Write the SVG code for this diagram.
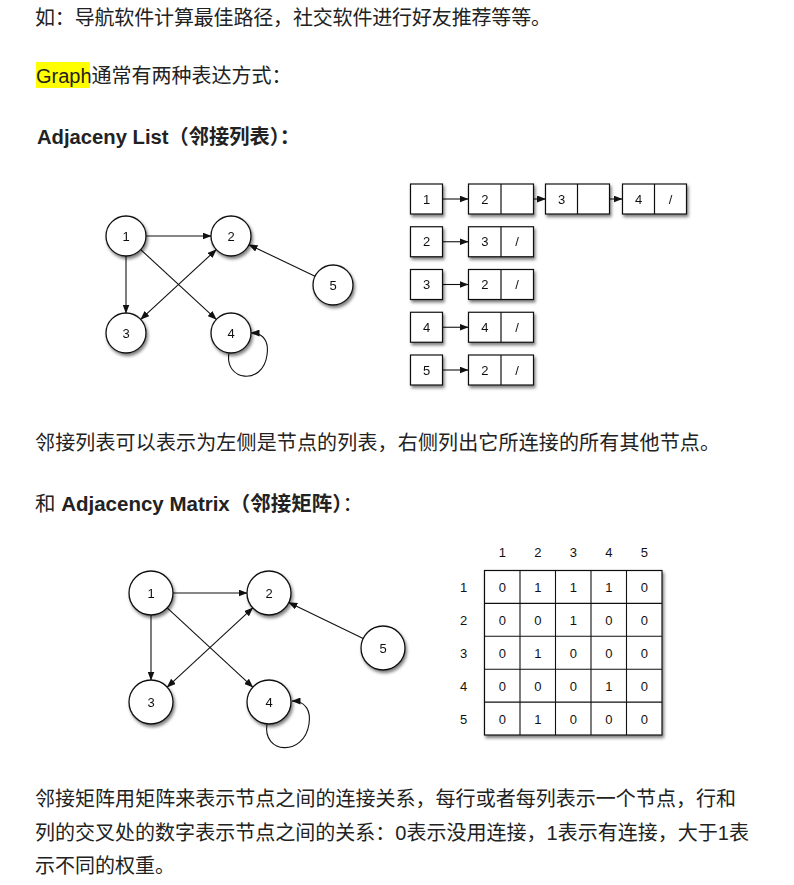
<svg xmlns="http://www.w3.org/2000/svg" width="794" height="885" viewBox="0 0 794 885">
<defs>
<style>
.t{font-family:"Liberation Sans","Noto Sans CJK SC",sans-serif;font-size:20px;fill:#222}
.b{font-weight:bold}
.n{fill:#fff;stroke:#111;stroke-width:1.3}
.bx{fill:#fff;stroke:#111;stroke-width:1.2}
.l{font-family:"Liberation Sans",Arial,sans-serif;font-size:13px;fill:#111;text-anchor:middle}
.c{fill:none;stroke:#111;stroke-width:1.1}
</style>
<filter id="sh" x="-30%" y="-30%" width="170%" height="170%">
<feDropShadow dx="1.5" dy="2.5" stdDeviation="1.6" flood-color="#000" flood-opacity="0.5"/>
</filter>
<marker id="ah" markerWidth="9" markerHeight="7" refX="8.5" refY="3.5" orient="auto" markerUnits="userSpaceOnUse">
<path d="M0,0 L9,3.5 L0,7 z" fill="#111"/>
</marker>
<marker id="as" markerWidth="9" markerHeight="7" refX="0.5" refY="3.5" orient="auto" markerUnits="userSpaceOnUse">
<path d="M9,0 L0,3.5 L9,7 z" fill="#111"/>
</marker>
</defs>
<rect width="794" height="885" fill="#fff"/>

<g id="text">
<text class="t" x="35" y="25" textLength="516" lengthAdjust="spacing">如：导航软件计算最佳路径，社交软件进行好友推荐等等。</text>
<rect x="36" y="62" width="54" height="26" fill="#ffff00"/>
<text class="t" x="36" y="83">Graph通常有两种表达方式：</text>
<text class="t b" x="37" y="144" textLength="263" lengthAdjust="spacingAndGlyphs">Adjaceny List（邻接列表）：</text>
<text class="t" x="35" y="450" textLength="685" lengthAdjust="spacing">邻接列表可以表示为左侧是节点的列表，右侧列出它所连接的所有其他节点。</text>
<text class="t" x="35" y="511" textLength="328" lengthAdjust="spacingAndGlyphs">和 <tspan class="b">Adjacency Matrix（邻接矩阵）</tspan>：</text>
<text class="t" x="35" y="806" textLength="701" lengthAdjust="spacing">邻接矩阵用矩阵来表示节点之间的连接关系，每行或者每列表示一个节点，行和</text>
<text class="t" x="35" y="840" textLength="714" lengthAdjust="spacing">列的交叉处的数字表示节点之间的关系：0表示没用连接，1表示有连接，大于1表</text>
<text class="t" x="35" y="873">示不同的权重。</text>
</g>

<!-- Graph 1 -->
<g id="g1-connectors">
<path class="c" d="M146,236 L211,236" marker-end="url(#ah)"/>
<path class="c" d="M126,256 L126,313" marker-end="url(#ah)"/>
<path class="c" d="M140.7,249.6 L216.3,319.4" marker-end="url(#ah)"/>
<path class="c" d="M216.3,249.6 L140.7,319.4" marker-start="url(#as)" marker-end="url(#ah)"/>
<path class="c" d="M315,276.3 L249,244.7" marker-end="url(#ah)"/>
<path class="c" d="M229,353 C224,381 263,386 267,355 C269,342 264,333 251,333" marker-end="url(#ah)"/>
</g>
<g id="g1-n1" filter="url(#sh)"><circle class="n" cx="126" cy="236" r="20"/><text class="l" x="126" y="240.5">1</text></g>
<g id="g1-n2" filter="url(#sh)"><circle class="n" cx="231" cy="236" r="20"/><text class="l" x="231" y="240.5">2</text></g>
<g id="g1-n3" filter="url(#sh)"><circle class="n" cx="126" cy="333" r="20"/><text class="l" x="126" y="337.5">3</text></g>
<g id="g1-n4" filter="url(#sh)"><circle class="n" cx="231" cy="333" r="20"/><text class="l" x="231" y="337.5">4</text></g>
<g id="g1-n5" filter="url(#sh)"><circle class="n" cx="333" cy="285" r="20"/><text class="l" x="333" y="289.5">5</text></g>

<!-- Adjacency list -->
<g id="list-connectors">
<path class="c" d="M443,199 L468,199" marker-end="url(#ah)"/>
<path class="c" d="M520,199 L545.5,199" marker-end="url(#ah)"/>
<path class="c" d="M597,199 L622,199" marker-end="url(#ah)"/>
<path class="c" d="M443,241.75 L468,241.75" marker-end="url(#ah)"/>
<path class="c" d="M443,284.5 L468,284.5" marker-end="url(#ah)"/>
<path class="c" d="M443,327.25 L468,327.25" marker-end="url(#ah)"/>
<path class="c" d="M443,370 L468,370" marker-end="url(#ah)"/>
</g>
<g id="row1" filter="url(#sh)">
<rect class="bx" x="410.5" y="184" width="32" height="30"/><text class="l" x="426.5" y="203.5">1</text>
<rect class="bx" x="468.5" y="184" width="65" height="30"/><line class="bx" x1="501" y1="184" x2="501" y2="214"/><text class="l" x="484.75" y="203.5">2</text>
<rect class="bx" x="545.5" y="184" width="64" height="30"/><line class="bx" x1="577.5" y1="184" x2="577.5" y2="214"/><text class="l" x="561.5" y="203.5">3</text>
<rect class="bx" x="622.5" y="184" width="64" height="30"/><line class="bx" x1="654.5" y1="184" x2="654.5" y2="214"/><text class="l" x="638.5" y="203.5">4</text><text class="l" x="670.5" y="203.5">/</text>
</g>
<g id="row2" filter="url(#sh)">
<rect class="bx" x="410.5" y="226.75" width="32" height="30"/><text class="l" x="426.5" y="246.25">2</text>
<rect class="bx" x="468.5" y="226.75" width="65" height="30"/><line class="bx" x1="501" y1="226.75" x2="501" y2="256.75"/><text class="l" x="484.75" y="246.25">3</text><text class="l" x="517" y="246.25">/</text>
</g>
<g id="row3" filter="url(#sh)">
<rect class="bx" x="410.5" y="269.5" width="32" height="30"/><text class="l" x="426.5" y="289">3</text>
<rect class="bx" x="468.5" y="269.5" width="65" height="30"/><line class="bx" x1="501" y1="269.5" x2="501" y2="299.5"/><text class="l" x="484.75" y="289">2</text><text class="l" x="517" y="289">/</text>
</g>
<g id="row4" filter="url(#sh)">
<rect class="bx" x="410.5" y="312.25" width="32" height="30"/><text class="l" x="426.5" y="331.75">4</text>
<rect class="bx" x="468.5" y="312.25" width="65" height="30"/><line class="bx" x1="501" y1="312.25" x2="501" y2="342.25"/><text class="l" x="484.75" y="331.75">4</text><text class="l" x="517" y="331.75">/</text>
</g>
<g id="row5" filter="url(#sh)">
<rect class="bx" x="410.5" y="355" width="32" height="30"/><text class="l" x="426.5" y="374.5">5</text>
<rect class="bx" x="468.5" y="355" width="65" height="30"/><line class="bx" x1="501" y1="355" x2="501" y2="385"/><text class="l" x="484.75" y="374.5">2</text><text class="l" x="517" y="374.5">/</text>
</g>

<!-- Graph 2 -->
<g id="g2-connectors">
<path class="c" d="M173,593 L247,593" marker-end="url(#ah)"/>
<path class="c" d="M151,615 L151,680" marker-end="url(#ah)"/>
<path class="c" d="M167.2,607.9 L252.8,687.1" marker-end="url(#ah)"/>
<path class="c" d="M252.8,607.9 L167.2,687.1" marker-start="url(#as)" marker-end="url(#ah)"/>
<path class="c" d="M363.2,638.4 L288.8,602.5" marker-end="url(#ah)"/>
<path class="c" d="M267,724 C262,754 304,757 309,724 C311,711 306,701 292,701" marker-end="url(#ah)"/>
</g>
<g id="g2-n1" filter="url(#sh)"><circle class="n" cx="151" cy="593" r="22"/><text class="l" x="151" y="597.5">1</text></g>
<g id="g2-n2" filter="url(#sh)"><circle class="n" cx="269" cy="593" r="22"/><text class="l" x="269" y="597.5">2</text></g>
<g id="g2-n3" filter="url(#sh)"><circle class="n" cx="151" cy="702" r="22"/><text class="l" x="151" y="706.5">3</text></g>
<g id="g2-n4" filter="url(#sh)"><circle class="n" cx="269" cy="702" r="22"/><text class="l" x="269" y="706.5">4</text></g>
<g id="g2-n5" filter="url(#sh)"><circle class="n" cx="383" cy="648" r="22"/><text class="l" x="383" y="652.5">5</text></g>

<!-- Matrix -->
<g id="matrix">
<g class="l">
<text x="502.25" y="556.5">1</text><text x="537.75" y="556.5">2</text><text x="573.25" y="556.5">3</text><text x="608.75" y="556.5">4</text><text x="644.25" y="556.5">5</text>
<text x="463.5" y="591.5">1</text><text x="463.5" y="624.5">2</text><text x="463.5" y="657.5">3</text><text x="463.5" y="690.5">4</text><text x="463.5" y="723.5">5</text>
</g>
<rect class="bx" x="484.5" y="570.5" width="177.5" height="164.5" filter="url(#sh)"/>
<path class="c" d="M520,570.5V735 M555.5,570.5V735 M591,570.5V735 M626.5,570.5V735 M484.5,603.4H662 M484.5,636.3H662 M484.5,669.2H662 M484.5,702.1H662"/>
<g class="l">
<text x="502.25" y="591.5">0</text><text x="537.75" y="591.5">1</text><text x="573.25" y="591.5">1</text><text x="608.75" y="591.5">1</text><text x="644.25" y="591.5">0</text>
<text x="502.25" y="624.5">0</text><text x="537.75" y="624.5">0</text><text x="573.25" y="624.5">1</text><text x="608.75" y="624.5">0</text><text x="644.25" y="624.5">0</text>
<text x="502.25" y="657.5">0</text><text x="537.75" y="657.5">1</text><text x="573.25" y="657.5">0</text><text x="608.75" y="657.5">0</text><text x="644.25" y="657.5">0</text>
<text x="502.25" y="690.5">0</text><text x="537.75" y="690.5">0</text><text x="573.25" y="690.5">0</text><text x="608.75" y="690.5">1</text><text x="644.25" y="690.5">0</text>
<text x="502.25" y="723.5">0</text><text x="537.75" y="723.5">1</text><text x="573.25" y="723.5">0</text><text x="608.75" y="723.5">0</text><text x="644.25" y="723.5">0</text>
</g>
</g>
</svg>
